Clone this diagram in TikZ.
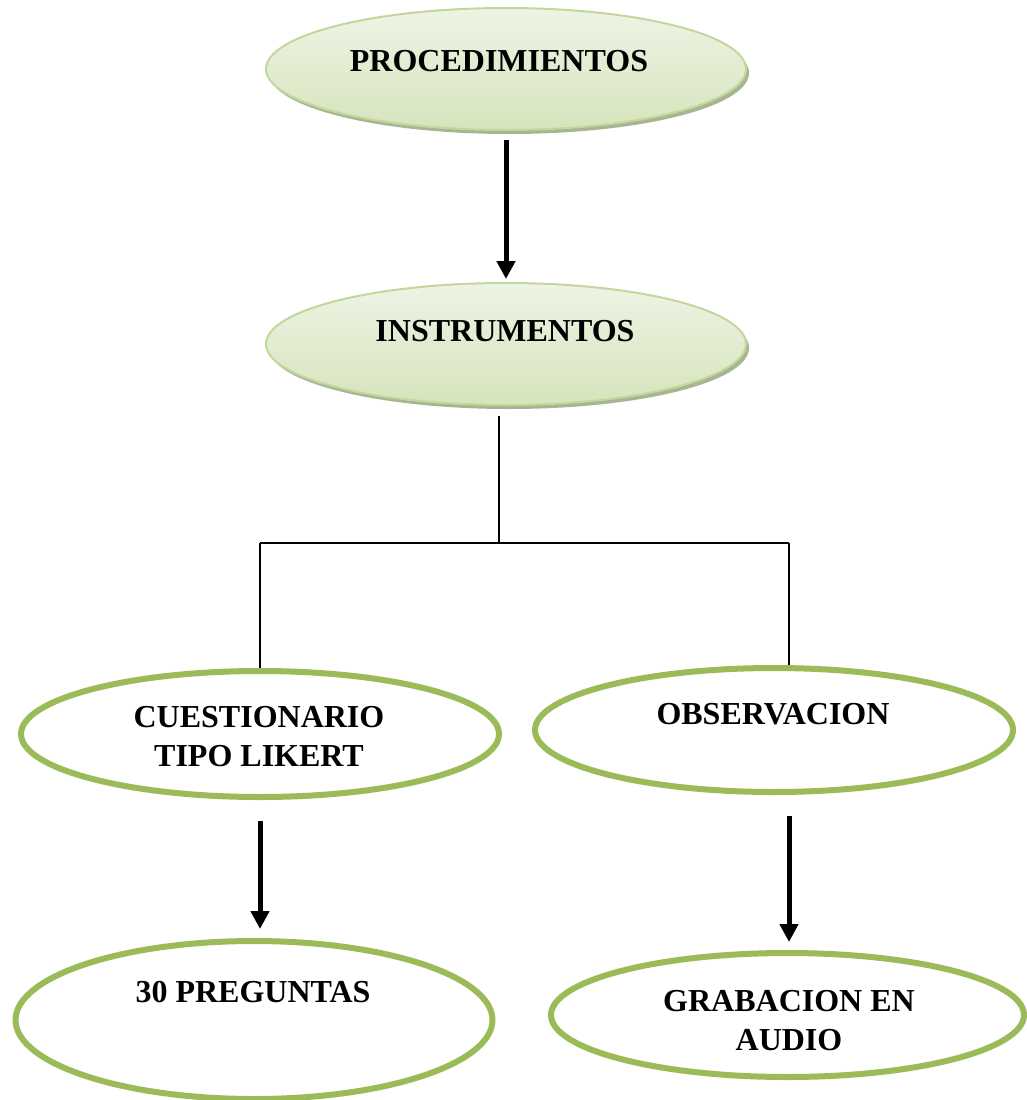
\documentclass[tikz,border=0pt]{standalone}
\usepackage{fontspec}
\setmainfont{Liberation Serif}
\usetikzlibrary{shapes.geometric,arrows.meta}
\definecolor{gline}{HTML}{9BBB59}
\definecolor{topborder}{HTML}{C3D69B}
\definecolor{toptop}{HTML}{EEF4E5}
\definecolor{topbot}{HTML}{D6E4BC}
\definecolor{shadowc}{HTML}{A7B593}
\begin{document}
\begin{tikzpicture}[x=1pt,y=-1pt,
  topell/.style={ellipse, draw=topborder, line width=2pt, top color=toptop, bottom color=topbot,
    minimum width=480pt, minimum height=122pt, inner sep=0pt,
    preaction={fill=shadowc, transform canvas={shift={(3pt,-4pt)}}}},
  botell/.style={ellipse, draw=gline, line width=6pt, fill=white, inner sep=0pt},
  lbl/.style={font=\fontsize{32}{39}\selectfont\bfseries, align=center, inner sep=0pt},
  bigarrow/.style={line width=5pt, -{Triangle[width=18pt,length=18pt]}},
  conn/.style={line width=1.8pt}]
\useasboundingbox (0,0) rectangle (1026,1100);

% ellipses
\node[topell] (proc) at (506,69) {};
\node[topell] (instr) at (506,344) {};
\node[botell, minimum width=478pt, minimum height=126pt] (cuest) at (260,734) {};
\node[botell, minimum width=478pt, minimum height=124pt] (obs) at (774,730) {};
\node[botell, minimum width=477pt, minimum height=158pt] (preg) at (254,1020) {};
\node[botell, minimum width=473pt, minimum height=124pt] (grab) at (787.5,1015) {};

% connectors
\draw[bigarrow, shorten <=9pt, shorten >=3pt] (proc.south) -- (instr.north);

\coordinate (j) at (499,543);
\coordinate (jl) at (260,543);
\coordinate (jr) at (789,543);
\draw[conn, shorten <=10pt] (instr.south -| j) -- (j);
\draw[conn] (jl) -- (jr);
\draw[conn] (jl) -- (cuest.north);
\draw[conn] (jr) -- (jr |- obs.north);

\draw[bigarrow, shorten <=21pt, shorten >=9pt] (cuest.south) -- (cuest.south |- preg.north);
\draw[bigarrow, shorten <=21pt, shorten >=8pt] (jr |- obs.south) -- (jr |- grab.north);

% labels
\node[lbl] (procT) at (499,61) {PROCEDIMIENTOS};
\node[lbl] (instrT) at (505,331) {INSTRUMENTOS};
\node[lbl] (cuestT) at (259,737) {CUESTIONARIO\\TIPO LIKERT};
\node[lbl] (obsT) at (773,714) {OBSERVACION};
\node[lbl] (pregT) at (253,992) {30 PREGUNTAS};
\node[lbl] (grabT) at (789,1021) {GRABACION EN\\AUDIO};
\end{tikzpicture}
\end{document}
